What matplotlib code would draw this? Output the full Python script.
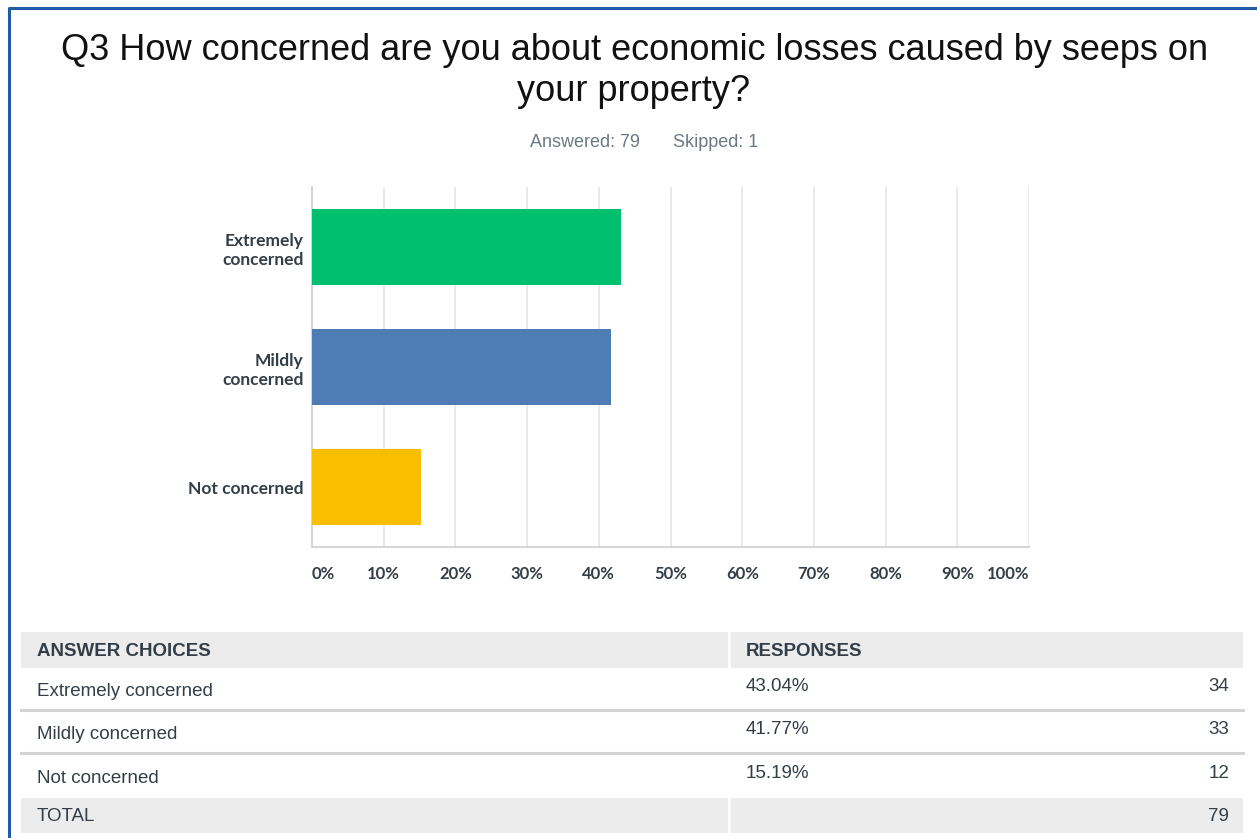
import matplotlib
matplotlib.use('Agg')
import matplotlib.pyplot as plt
from matplotlib.patches import Rectangle
import numpy as np

# Survey data
categories = ['Extremely\nconcerned', 'Mildly\nconcerned', 'Not concerned']
choices = ['Extremely concerned', 'Mildly concerned', 'Not concerned']
percents = [43.04, 41.77, 15.19]
counts = [34, 33, 12]
total = 79
answered = 79
skipped = 1
tick_values = [0, 10, 20, 30, 40, 50, 60, 70, 80, 90, 100]
bar_colors = ['#00bf6f', '#507cb6', '#f9be00']

TEXT_DARK = '#333e48'
W, H = 1257, 838

plt.rcParams['font.family'] = ['Liberation Sans', 'DejaVu Sans']

fig = plt.figure(figsize=(W / 100, H / 100), dpi=100)
fig.patch.set_facecolor('white')

# overlay axes in pixel coordinates for title, frame and table
ov = fig.add_axes([0, 0, 1, 1])
ov.set_xlim(0, W)
ov.set_ylim(H, 0)
ov.axis('off')

# blue frame (left and top edges)
ov.plot([9, 9, W + 5], [H + 5, 8, 8], color='#1f5ca5', lw=2.2, solid_capstyle='butt')

ov.text(635, 60, 'Q3 How concerned are you about economic losses caused by seeps on',
        ha='center', va='baseline', fontsize=26, color='#111111')
ov.text(634, 101, 'your property?', ha='center', va='baseline',
        fontsize=26, color='#111111')
ov.text(585, 147, f'Answered: {answered}', ha='center', va='baseline',
        fontsize=13, color='#6b7884')
ov.text(716, 147, f'Skipped: {skipped}', ha='center', va='baseline',
        fontsize=13, color='#6b7884')

# bar chart
ax = fig.add_axes([312 / W, 1 - 547 / H, (1029 - 312) / W, (547 - 187) / H])
y = np.arange(len(categories))
ax.barh(y, percents, height=0.63, color=bar_colors, zorder=3)
ax.set_xlim(0, 100)
ax.set_ylim(len(categories) - 0.5, -0.5)
ax.set_xticks(tick_values)
ax.set_xticklabels([f'{v}%' for v in tick_values])
ax.set_yticks(y)
ax.set_yticklabels(categories, fontfamily='Lato', fontweight='bold',
                   fontsize=12.5, color=TEXT_DARK, linespacing=1.3)
for lbl in ax.get_xticklabels():
    lbl.set_fontfamily('Lato')
    lbl.set_fontweight('bold')
    lbl.set_fontsize(12)
    lbl.set_color(TEXT_DARK)
xl = ax.get_xticklabels()
xl[0].set_ha('left')
xl[-1].set_ha('right')
ax.tick_params(axis='both', length=0)
ax.tick_params(axis='x', pad=14)
ax.tick_params(axis='y', pad=6)
ax.grid(axis='x', color='#e4e4e4', lw=1.2, zorder=0)
for s in ['top', 'right']:
    ax.spines[s].set_visible(False)
ax.spines['left'].set_color('#d6d6d6')
ax.spines['bottom'].set_color('#d6d6d6')
ax.spines['left'].set_linewidth(1.5)
ax.spines['bottom'].set_linewidth(1.5)

# summary table
tx0, tx1, tdiv = 21, 1243, 729
gray = '#ececec'
ov.add_patch(Rectangle((tx0, 632), tx1 - tx0, 36, color=gray, lw=0))
ov.add_patch(Rectangle((tx0, 798), tx1 - tx0, 35, color=gray, lw=0))
ov.plot([tdiv, tdiv], [632, 668], color='white', lw=2)
ov.plot([tdiv, tdiv], [798, 833], color='white', lw=2)
ov.text(37, 656, 'ANSWER CHOICES', fontsize=13.5, fontweight='bold',
        color=TEXT_DARK, va='baseline')
ov.text(746, 656, 'RESPONSES', fontsize=13.5, fontweight='bold',
        color=TEXT_DARK, va='baseline')
row_tops = [668, 711, 755]
for i, (c, p, n) in enumerate(zip(choices, percents, counts)):
    top = row_tops[i]
    ov.text(37, top + 28, c, fontsize=13.5, color=TEXT_DARK, va='baseline')
    ov.text(746, top + 23, f'{p:.2f}%', fontsize=13.5, color=TEXT_DARK, va='baseline')
    ov.text(1229, top + 23, str(n), fontsize=13.5, color=TEXT_DARK,
            va='baseline', ha='right')
    if i < len(choices) - 1:
        ov.plot([tx0, tx1], [top + 42, top + 42], color='#d4d4d4', lw=2.2)
ov.text(37, 821, 'TOTAL', fontsize=13.5, color=TEXT_DARK, va='baseline')
ov.text(1229, 821, str(total), fontsize=13.5, color=TEXT_DARK, va='baseline', ha='right')

fig.savefig('out.png', dpi=100)
